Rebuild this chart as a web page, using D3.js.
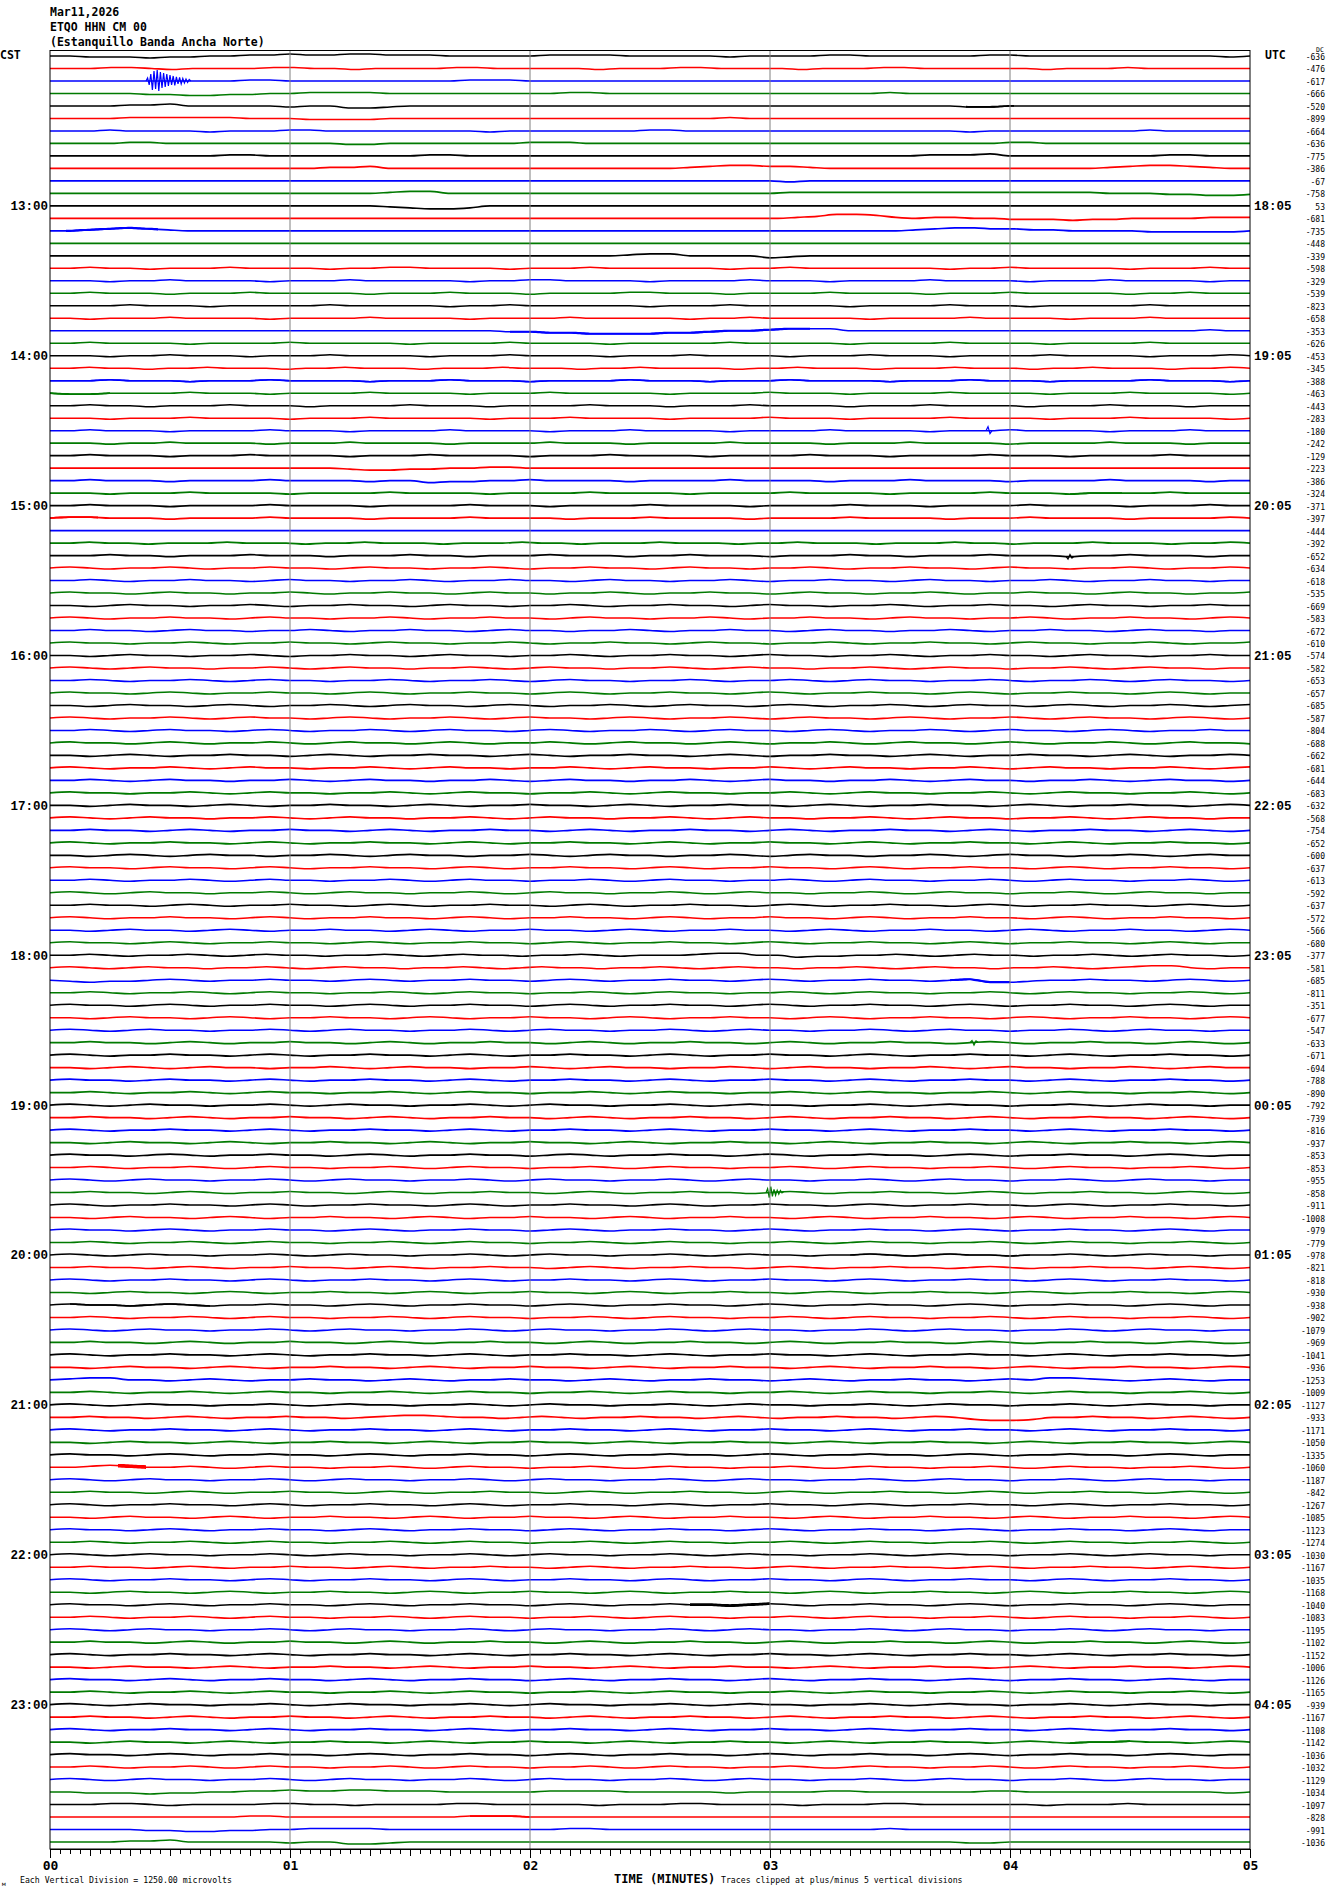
<!DOCTYPE html>
<html><head><meta charset="utf-8">
<script src="https://cdn.jsdelivr.net/npm/d3@7"></script>
<style>body{margin:0;background:#fff}svg{display:block}</style>
</head><body><svg id="c" width="1330" height="1894"></svg>
<script>
// ---------------- DATA ----------------
const titleLines = ["Mar11,2026", "ETQO HHN CM 00", "(Estanquillo Banda Ancha Norte)"];
const cstLabels = ["13:00","14:00","15:00","16:00","17:00","18:00","19:00","20:00","21:00","22:00","23:00"];
const utcLabels = ["18:05","19:05","20:05","21:05","22:05","23:05","00:05","01:05","02:05","03:05","04:05"];
const minuteLabels = ["00","01","02","03","04","05"];
const rowOffsets = [-636,-476,-617,-666,-520,-899,-664,-636,-775,-386,-67,-758,
53,-681,-735,-448,-339,-598,-329,-539,-823,-658,-353,-626,
-453,-345,-388,-463,-443,-283,-180,-242,-129,-223,-386,-324,
-371,-397,-444,-392,-652,-634,-618,-535,-669,-583,-672,-610,
-574,-582,-653,-657,-685,-587,-804,-688,-662,-681,-644,-683,
-632,-568,-754,-652,-600,-637,-613,-592,-637,-572,-566,-680,
-377,-581,-685,-811,-351,-677,-547,-633,-671,-694,-788,-890,
-792,-739,-816,-937,-853,-853,-955,-858,-911,-1008,-979,-779,
-978,-821,-818,-930,-938,-902,-1079,-969,-1041,-936,-1253,-1009,
-1127,-933,-1171,-1050,-1335,-1060,-1187,-842,-1267,-1085,-1123,-1274,
-1030,-1167,-1035,-1168,-1040,-1083,-1195,-1102,-1152,-1006,-1126,-1165,
-939,-1167,-1108,-1142,-1036,-1032,-1129,-1034,-1097,-828,-991,-1036];
// trace samples, evenly spaced over the 5-minute row; 'm' = 0, each letter step = 100 microvolts (up positive)
const traces = [
"mmlllkllmmnnonnoonnnmmmmmnnnnmmmmmlmmmmnnmmmmmmnnmmmmmmmmmmlm",
"mmmnnmlmmmmnnmmlmmmmnnmmmmmlmmmnnmmmmlmmmnnmmmmmmlmmmnmmmmmm",
"mmmmmmmmmmnnmmmmmmmmmnnnmmmmmmmmmmmmmmmmmmmmmmmmmmmmmmmmmmmmm",
"mmmmmllkkllmmnnnnmmmmmmmmmnnmmmmmmmmmmmmmmnmmmmmmmmmmmmmmmmmm",
"mmmmnnommmmmlmmkklmmmmmmmmmmmmmmmmmmmmmmmmmmmmllmmmmmmmmmmmmm",
"mmmmnnnnnnmmmllllmmmmmmmmmmmmmmmmmnmmmmmmmmmmmmmmmmmmmmmmmmmm",
"mmmnmmmmlmmmnnmmmmmmmmlmmmmmmmnnmmmmmmmmmmmmmmlmmmmmmmmnmmmmm",
"mmmmnnmmmmmmmmmllmmmmmmmnnnmmmmmmmmmmmmmmmmmmmmmnnmmmmmmmmmmm",
"mmmmmmmmmnnmmmmmmmmnnmmmmmmmmmmmmmmmmmmmmmmmnnnommmmmmmmnnmmm",
"mmmmmmmmmmmmmmnnommmmmmmmmmmmmmmnoppoonmmmmmmmmmmmmmmnopponmm",
"mmmmmmmmmmmmmmmmmmmmmmmmmmmmmmmmmmmmmlmmmmmmmmmmmmmmmmmmmmmmm",
"mmmmmmmmmmmmmmmmmnoommmmmmmmmmmmmmmmmnnnnnnnnnnnnnnnnmmmllkkl",
"mmmmmmmmmmmmmmmmmlkjjkmmmmmmmmmmmmmmmmmmmmmmmmmmmmmmmmmmmmmmm",
"mmmmmmmmmmmmmmmmmmmmmmmmmmmmmmmmmmmmmmnoqqpnmnnmmlllkllmmmmnnn",
"mmnoponmmmmmmmmmmmmmmmmmmmmmmmmmmmmmmmmmmmmmnoppoonnmmmmlllllm",
"mmmmmmmmmmmmmmmmmmmmmmmmmmmmmmmmmmmmmmmmmmmmmmmmmmmmmmmmmmmmm",
"mmmmmmmmmmmmmmmmmmmmmmmmmmmmmnoommmmklmmmmmmmmmmmmmmmmmmmmmmm",
"mmnmmlmmmnmmmmlmmnnmmmmlmmmnmmmmmmlmmnmmmmmmmlmmnmmmmmlmmmnmm",
"mmmlmmnmmmmlmmmnmmmmmlmmnnmmmmlmmmmnmmmlmmmmnmmmmlmmmnmmmmlmm",
"mmnmmmlmmmnmmmmmlmmmnmmmlmmmmnnmmmlmmmmnmmmmlmmmnmmmmmlmmnmmm",
"mmmmnmmmlmmmmmnmmmmmlmmnmmmmmmlmmmnmmmmmlmmmmnmmmlmmmmmnmmmmm",
"mmlmmmnmmmmlmmmmnmmmmlmmmmnmmmmmlmmnmmmmmlmmmmnmmmmlmmmnmmmmm",
"mmmmmmmmmmmmmmmmmmmmmmmllkkjjjjkklmmnooommmmmmmmmmmmmmmmmmnmm",
"mmnmmmmlmmmmnmmmmmlmmmmnmmmmlmmmmmnmmmmmlmmmmnmmmmlmmmmnmmmmm",
"mmmlmmnmmmlmmmnmmmmlmmmnmmmmlmmmnmmmmlmmmnmmmlmmmmnmmmmlmmmnm",
"mmnmmlmmnmmmlmmnmmmlmmmnmmmlmmnmmmmlmmnmmmlmmmnmmmlmmnmmmlmmnm",
"mmmnmmmlmmmnmmmmlmmmnmmmlmmmmnmmmlmmmnmmmmlmmmnmmmlmmmmnmmmlm",
"mllmmmmnmmmlmmmmnmmmmlmmmnmmmmmlmmmmnmmmlmmmmnmmmmlmmmnmmmmlm",
"mmnmmlmmmnmmmlmmmmnmmmlmmmmnmmmlmmmnmmmmlmmmnmmmmlmmmnmmmlmmm",
"mmmlmmmnmmmmlmmmnmmmmmlmmmnmmmmlmmmmnmmmlmmmmnmmmmlmmmnmmmmlm",
"mmnmmmlmmmmnmmmlmmmmnmmmmlmmmnmmmmlmmmmnmmmmlmmmnmmmmlmmmnmmm",
"mmmlmmnmmmmlmmmnmmmmlmmmmnmmmlmmmmnmmmmlmmmnmmmmlmmmmnmmmlmmm",
"mmnmmmlmmmnmmmmlmmmnmmmmlmmmnmmmmlmmmmnmmmlmmmmnmmmlmmmmnmmmm",
"mmmmmmmmmmmmmmmlkkllmmnnmmmmmmmmmmmmmmmmmmmmmmmmmmmmmmmmmmmmm",
"mmnmmmlmmmmnmmmmlmmkllmmnmmmmlmmmmnmmmmlmmmnmmmmlmmmmnmmmmlmm",
"mmmlmmmnmmmmlmmmmnmmmmlmmmmnmmmmlmmmmnmmmmlmmmmnmmmlmmmmnmmmm",
"mmnmmmlmmmmnmmmmlmmmmnmmmlmmmmnmmmmlmmmmnmmmlmmmmnmmmmlmmmnmm",
"mnnmmmlmmmmnmmmmlmmmmnmmmmlmmmnmmmmlmmmmnmmmmlmmmnmmmmlmmmmnm",
"mmmmmmmmmmmmmmmmmmmmmmmmmmmmmmmmmmmmmmmmmmmmmmmmmmmmmmmmmmmmm",
"mmnmmlmmmnmmmlmmnmmmlmmmnmmlmmmnmmmlmmnmmmlmmmnmmlmmmnmmmlmmnm",
"mmmnmmlmmmnmmmlmmmnmmlmmmnmmmlmmnmmmlmmmnmmlmmmnmmmlmmnmmmlmm",
"mnmlmmnmlmmnmmlmnmmlmmnmlmmnmmlmnmmlmmnmlmmnmmlmnmmlmmnmlmmnm",
"mmnmlmmnmmlmnmmlmmnmlmmnmmlmnmmlmmnmlmmnmmlmnmmlmmnmlmmnmmlmm",
"mnmmlmnmmlmmnmlmmnmmlmnmmlmmnmlmmnmmlmnmmlmmnmlmmnmmlmnmmlmmn",
"mmlmnmmlmmnmlmmnmmlmnmmlmmnmlmmnmmlmnmmlmmnmlmmnmmlmnmmlmmnmm",
"mnmlmmnmmlmnmmlmmnmlmmnmmlmnmmlmmnmlmmnmmlmnmmlmmnmlmmnmmlmnm",
"mmnmmlmnmmlmmnmlmmnmmlmnmmlmmnmlmmnmmlmnmmlmmnmlmmnmmlmnmmlmm",
"mnmmlmmnmlmmnmmlmnmmlmmnmlmmnmmlmnmmlmmnmlmmnmmlmnmmlmmnmlmmn",
"mmlmnmmlmmnmlmmnmmlmnmmlmmnmlmmnmmlmnmmlmmnmlmmnmmlmnmmlmmnmm",
"mnmlmnmmlmmnmlmnmmlmmnmlmnmmlmmnmlmnmmlmmnmlmnmmlmmnmlmnmmlmm",
"mmnmlmmnmlmnmmlmmnmlmmnmlmnmmlmmnmlmmnmlmnmmlmmnmlmmnmlmnmmlm",
"mnmmlmnmlmmnmmlmnmlmmnmmlmnmlmmnmmlmnmlmmnmmlmnmlmmnmmlmnmlmm",
"mmlmnmmlmnmlmmnmlmnmmlmnmlmmnmlmnmmlmnmlmmnmlmnmmlmnmlmmnmlmn",
"mnmlmmnmlmnmmlmnmlmmnmlmnmmlmnmlmmnmlmnmmlmnmlmmnmlmnmmlmnmlm",
"mmnmlmnmmlmnmlmmnmlmnmmlmnmlmmnmlmnmmlmnmlmmnmlmnmmlmnmlmmnmm",
"mnmmlmnmlmmnmlmnmmlmnmlmmnmlmnmmlmnmlmmnmlmnmmlmnmlmmnmlmnmml",
"mmlmnmlmmnmmlmnmlmmnmmlmnmlmmnmmlmnmlmmnmmlmnmlmmnmmlmnmlmmnm",
"mnmlmmnmlmnmmlmmnmlmnmmlmmnmlmnmmlmmnmlmnmmlmmnmlmnmmlmmnmlmn",
"mmnmlmnmmlmmnmlmnmmlmmnmlmnmmlmmnmlmnmmlmmnmlmnmmlmmnmlmnmmlm",
"mnmmlmmnmlmnmmlmmnmlmnmmlmmnmlmnmmlmmnmlmnmmlmmnmlmnmmlmmnmlm",
"mmlmnmmlmnmlmmnmmlmnmlmmnmmlmnmlmmnmmlmnmlmmnmmlmnmlmmnmmlmnm",
"mnmlmnmmlmmnmlmnmmlmmnmlmnmmlmmnmlmnmmlmmnmlmnmmlmmnmlmnmmlmm",
"mmnmmlmnmlmmnmmlmnmlmmnmmlmnmlmmnmmlmnmlmmnmmlmnmlmmnmmlmnmlm",
"mnmlmmnmmlmnmlmmnmmlmnmlmmnmmlmnmlmmnmmlmnmlmmnmmlmnmlmmnmmlm",
"mmlmnmlmnmmlmmnmlmnmmlmmnmlmnmmlmmnmlmnmmlmmnmlmnmmlmmnmlmnmm",
"mnmmlmnmmlmnmlmmnmmlmnmlmmnmmlmnmlmmnmmlmnmlmmnmmlmnmlmmnmmlm",
"mmnmlmmnmlmnmmlmmnmlmnmmlmmnmlmnmmlmmnmlmnmmlmmnmlmnmmlmmnmlm",
"mnmlmnmmlmmnmlmnmmlmmnmlmnmmlmmnmlmnmmlmmnmlmnmmlmmnmlmnmmlmm",
"mmnmmlmnmlmmnmmlmnmlmmnmmlmnmlmmnmmlmnmlmmnmmlmnmlmmnmmlmnmlm",
"mnmlmmnmmlmnmlmmnmmlmnmlmmnmmlmnmlmmnmmlmnmlmmnmmlmnmlmmnmmlm",
"mmlmnmmlmnmlmmnmmlmnmlmmnmmlmnmlmmnmmlmnmlmmnmmlmnmlmmnmmlmnm",
"mnmmlmnmlmmnmmlmnmlmmnmmlmnmlmmnmmlmnmlmmnmmlmnmlmmnmmlmnmlmm",
"mmnmlmmnmlmnmmlmmnmlmnmmlmmnmlmmmnoommkllmmnmlmnmmlmmnmlmnmmlm",
"mnmlmnmmlmmnmlmnmmlmmnmlmnmmlmmnmlmnmmlmmnmlmnmmlmmnmlmnoomlmm",
"mlkllmnmlmmnmmlmnmlmmnmmlmnmlmmnmmlmnmlmmnmmlmnkklmmnmmlmnmlm",
"mmnmlmmnmlmnmmlmmnmlmnmmlmmnmlmnmmlmmnmlmnmmlmmnmlmnmmlmmnmlm",
"mnmmlmnmlmmnmmlmnmlmmnmmlmnmlmmnmmlmnmlmmnmmlmnmlmmnmmlmnmlmm",
"mmlmnmmlmnmlmmnmmlmnmlmmnmmlmnmlmmnmmlmnmlmmnmmlmnmlmmnmmlmnm",
"mnmlmnmmlmmnmlmnmmlmmnmlmnmmlmmnmlmnmmlmmnmlmnmmlmmnmlmnmmlmm",
"mmnmmlmnmlmmnmmlmnmlmmnmmlmnmlmmnmmlmnmlmmnmmlmnmlmmnmmlmnmlm",
"mnmlmmnmmlmnmlmmnmmlmnmlmmnmmlmnmlmmnmmlmnmlmmnmmlmnmlmmnmmlm",
"mmlmnmlmnmmlmmnmlmnmmlmmnmlmnmmlmmnmlmnmmlmmnmlmnmmlmmnmlmnmm",
"mnmmlmnmmlmnmlmmnmmlmnmlmmnmmlmnmlmmnmmlmnmlmmnmmlmnmlmmnmmlm",
"mmnmlmmnmlmnmmlmmnmlmnmmlmmnmlmnmmlmmnmlmnmmlmmnmlmnmmlmmnmlm",
"mnmlmnmmlmmnmlmnmmlmmnmlmnmmlmmnmlmnmmlmmnmlmnmmlmmnmlmnmmlmm",
"mmnmmlmnmlmmnmmlmnmlmmnmmlmnmlmmnmmlmnmlmmnmmlmnmlmmnmmlmnmlm",
"mnmlmmnmmlmnmlmmnmmlmnmlmmnmmlmnmlmmnmmlmnmlmmnmmlmnmlmmnmmlm",
"mmlmnmmlmnmlmmnmmlmnmlmmnmmlmnmlmmnmmlmnmlmmnmmlmnmlmmnmmlmnm",
"mnmmlmnmlmmnmmlmnmlmmnmmlmnmlmmnmmlmnmlmmnmmlmnmlmmnmmlmnmlmm",
"mmnmlmmnmlmnmmlmmnmlmnmmlmmnmlmnmmlmmnmlmnmmlmmnmlmnmmlmmnmlm",
"mnmlmnmmlmmnmlmnmmlmmnmlmnmmlmmnmlmnmmlmmnmlmnmmlmmnmlmnmmlmm",
"mmnmmlmnmlmmnmmlmnmlmmnmmlmnmlmmnmmlmnmlmmnmmlmnmlmmnmmlmnmlm",
"mnmlmmnmmlmnmlmmnmmlmnmlmmnmmlmnmlmmnmmlmnmlmmnmmlmnmlmmnmmlm",
"mmlmnmmlmnmlmmnmmlmnmlmmnmmlmnmlmmnmmlmnmlmmnmmlmnmlmmnmmlmnm",
"mnmmlmnmlmmnmmlmnmlmmnmmlmnmlmmnmmlmnmlmmnmmlmnmlmmnmmlmnmlmm",
"mmnmlmmnmlmnmmlmmnmlmnmmlmmnmlmnmmlmmnmlmnmmlmmnmlmnmmlmmnmlm",
"mnmlmnmmlmmnmlmnmmlmmnmlmnmmlmmnmlmnmmlmmnmlmnmmlmmnmlmnmmlmm",
"mmnmmlmnmlmmnmmlmnmlmmnmmlmnmlmmnmmlmnmlmmnmmlmnmlmmnmmlmnmlm",
"mnmlmmnmmlmnmlmmnmmlmnmlmmnmmlmnmlmmnmmlmnmlmmnmmlmnmlmmnmmlm",
"mmlmnmmlmnmlmmnmmlmnmlmmnmmlmnmlmmnmmlmnmlmmnmmlmnmlmmnmmlmnm",
"mnmmlmnmlmmnmmlmnmlmmnmmlmnmlmmnmmlmnmlmmnmmlmnmlmmnmmlmnmlmm",
"mmnmlmmnmlmnmmlmmnmlmnmmlmmnmlmnmmlmmnmlmnmmlmmnmlmnmmlmmnmlm",
"mnmlmnmmlmmnmlmnmmlmmnmlmnmmlmmnmlmnmmlmmnmlmnmmlmmnmlmnmmlmm",
"mmnmmlmnmlmmnmmlmnmlmmnmmlmnmlmmnmmlmnmlmmnmmlmnmlmmnmmlmnmlm",
"mnmlmmnmmlmnmlmmnmmlmnmlmmnmmlmnmlmmnmmlmnmlmmnmmlmnmlmmnmmlm",
"mmlmnmmlmnmlmmnmmlmnmlmmnmmlmnmlmmnmmlmnmlmmnmmlmnmlmmnmmlmnm",
"mnoommlmnmlmmnmmlmnmlmmnmmlmnmlmmnmmlmnmlmmnmmlmnmoonmlmnmlmm",
"mmnmlmmnmlmnmmlmmnmlmnmmlmmnmlmnmmlmmnmlmnmmlmmnmlmnmmlmmnmlm",
"mnmlmnmmlmmnmlmnmmlmmnmlmnmmlmmnmlmnmmlmmnmlmnmmlmmnmlmnmmlmm",
"mmnmmlmnmlmmnmmlmnoonmmlmnmlmmnmmlmnmlmmnmmlmnmkjjkmmnmmlmnmlm",
"mnmlmmnmmlmnmlmmnmmlmnmlmmnmmlmnmlmmnmmlmnmlmmnmmlmnmlmmnmmlm",
"mmlmnmmlmnmlmmnmmlmnmlmmnmmlmnmlmmnmmlmnmlmmnmmlmnmlmmnmmlmnm",
"mnmmlmnmlmmnmmlmnmlmmnmmlmnmlmmnmmlmnmlmmnmmlmnmlmmnmmlmnmlmm",
"mmnonmmnmlmnmmlmmnmlmnmmlmmnmlmnmmlmmnmlmnmmlmmnmlmnmmlmmnmlm",
"mnmlmnmmlmmnmlmnmmlmmnmlmnmmlmmnmlmnmmlmmnmlmnmmlmmnmlmnmmlmm",
"mmnmmlmnmlmmnmmlmnmlmmnmmlmnmlmmnmmlmnmlmmnmmlmnmlmmnmmlmnmlm",
"mnmlmmnmmlmnmlmmnmmlmnmlmmnmmlmnmlmmnmmlmnmlmmnmmlmnmlmmnmmlm",
"mmlmnmmlmnmlmmnmmlmnmlmmnmmlmnmlmmnmmlmnmlmmnmmlmnmlmmnmmlmnm",
"mnmmlmnmlmmnmmlmnmlmmnmmlmnmlmmnmmlmnmlmmnmmlmnmlmmnmmlmnmlmm",
"mmnmlmmnmlmnmmlmmnmlmnmmlmmnmlmnmmlmmnmlmnmmlmmnmlmnmmlmmnmlm",
"mnmlmnmmlmmnmlmnmmlmmnmlmnmmlmmnmlmnmmlmmnmlmnmmlmmnmlmnmmlmm",
"mmnmmlmnmlmmnmmlmnmlmmnmmlmnmlmmnmmlmnmlmmnmmlmnmlmmnmmlmnmlm",
"mnmlmmnmmlmnmlmmnmmlmnmlmmnmmlmnmlmmnmmlmnmlmmnmmlmnmlmmnmmlm",
"mmlmnmmlmnmlmmnmmlmnmlmmnmmlmnmlmmnmmlmnmlmmnmmlmnmlmmnmmlmnm",
"mnmmlmnmlmmnmmlmnmlmmnmmlmnmlmmnmmlmnmlmmnmmlmnmlmmnmmlmnmlmm",
"mmnmlmmnmlmnmmlmmnmlmnmmlmmnmlmnmmlmmnmlmnmmlmmnmlmnmmlmmnmlm",
"mnmlmnmmlmmnmlmnmmlmmnmlmnmmlmmnmlmnmmlmmnmlmnmmlmmnmlmnmmlmm",
"mmnmmlmnmlmmnmmlmnmlmmnmmlmnmlmmnmmlmnmlmmnmmlmnmlmmnmmlmnmlm",
"mnmlmmnmmlmnmlmmnmmlmnmlmmnmmlmnmlmmnmmlmnmlmmnmmlmnmlmmnmmlm",
"mmlmnmmlmnmlmmnmmlmnmlmmnmmlmnmlmmnmmlmnmlmmnmmlmnmlmmnmmlmnm",
"mnmmlmnmlmmnmmlmnmlmmnmmlmnmlmmnmmlmnmlmmnmmlmnmlmmnmmlmnmlmm",
"mmnmlmmnmlmnmmlmmnmlmnmmlmmnmlmnmmlmmnmlmnmmlmmnmlmnmmlmmnmlm",
"mnmlmnmmlmmnmlmnmmlmmnmlmnmmlmmnmlmnmmlmmnmlmnmmlmmnmlmnmmlmm",
"mmnmmlmnmlmmnmmlmnmlmmnmmlmnmlmmnmmlmnmlmmnmmlmnmlmmnmmlmnmlm",
"mnmlmmnmmlmnmlmmnmmlmnmlmmnmmlmnmlmmnmmlmnmlmmnmmlmnmlmmnmmlm",
"mmlmnmmlmnmlmmnmmlmnmlmmnmmlmnmlmmnmmlmnmlmmnmmlmnmlmmnmmlmnm",
"mnmmlmnmlmmnmmlmnmlmmnmmlmnmlmmnmmlmnmlmmnmmlmnmlmmnmmlmnmlmm",
"mmnmlmmnmlmnmmlmmnmlmnmmlmmnmlmnmmlmmnmlmnmmlmmnmlmnmmlmmnmlm",
"mnmlmnmmlmmnmlmnmmlmmnmlmnmmlmmnmlmnmmlmmnmlmnmmlmmnmlmnmmlmm"
];
// short high-rate bursts: row, start second, step seconds, values (microvolts)
const bursts = [
  {row: 2, t0: 24, dt: 0.4, v: [0,300,-400,700,-900,1000,-800,1100,-1000,900,-700,800,-600,700,-500,600,-400,500,-450,400,-300,350,-300,250,-200,200,-150,150,0]},
  {row: 30, t0: 234, dt: 0.5, v: [0,400,-300,0]},
  {row: 40, t0: 254, dt: 0.5, v: [0,-250,200,-150,0]},
  {row: 79, t0: 230, dt: 0.5, v: [0,200,-250,150,0]},
  {row: 91, t0: 179, dt: 0.4, v: [0,400,-500,600,-400,300,-300,200,-200,150,-100,0]}
];
// noisy stretches: row, start second, end second, half-width of noise envelope (microvolts)
const noiseBands = [
  [4,229,241,90],[14,4,27,110],[22,115,190,110],[26,0,300,80],[27,0,15,90],
  [35,255,268,80],[37,0,12,90],[74,225,240,110],[96,200,245,60],[100,5,40,80],
  [113,17,24,180],[124,160,180,140],[135,255,270,90],[141,105,120,90]
];

// ---------------- DRAW ----------------
const svg = d3.select("#c");
const colors = ["#000000", "#ff0000", "#0000ff", "#007a00"];
const pL = 50, pR = 1250, pT = 50.5, pB = 1849;
const nRows = rowOffsets.length;
const x = d3.scaleLinear().domain([0, 300]).range([pL, pR]);
const yRow = d3.scaleLinear().domain([-0.44, nRows - 0.44]).range([pT, pB]);
const rowH = yRow(1) - yRow(0);
const amp = d3.scaleLinear().domain([0, 1250]).range([0, -rowH]);

function samples(i) {
  const s = traces[i % traces.length], n = s.length;
  return Array.from(s, (c, k) => ({t: k * 300 / (n - 1), v: (c.charCodeAt(0) - 109) * 100}));
}
function baseAt(sm, t) {
  const step = 300 / (sm.length - 1);
  const k = Math.min(sm.length - 2, Math.max(0, Math.floor(t / step)));
  const f = (t - sm[k].t) / step;
  return sm[k].v + (sm[k + 1].v - sm[k].v) * f;
}

const gTr = svg.append("g");
const line = d3.line().x(d => x(d.t)).y(d => d.y).curve(d3.curveMonotoneX);
const sampled = [];
for (let i = 0; i < nRows; i++) {
  const sm = samples(i);
  sampled.push(sm);
  gTr.append("path")
    .attr("d", line(sm.map(d => ({t: d.t, y: yRow(i) + amp(d.v)}))))
    .attr("fill", "none").attr("stroke", colors[i % 4]).attr("stroke-width", 1.6);
}
const area = d3.area().x(d => x(d.t)).y0(d => d.y0).y1(d => d.y1).curve(d3.curveMonotoneX);
noiseBands.forEach(([r, t0, t1, hw]) => {
  const sm = sampled[r], pts = [];
  for (let t = t0; t <= t1 + 1e-6; t += 1) {
    const b = baseAt(sm, t);
    pts.push({t, y0: yRow(r) + amp(b + hw), y1: yRow(r) + amp(b - hw)});
  }
  gTr.append("path").attr("d", area(pts)).attr("fill", colors[r % 4]);
});
const bl = d3.line().x(d => x(d.t)).y(d => d.y);
bursts.forEach(b => {
  const sm = sampled[b.row];
  const pts = b.v.map((v, k) => { const t = b.t0 + k * b.dt; return {t, y: yRow(b.row) + amp(baseAt(sm, t) + v)}; });
  gTr.append("path").attr("d", bl(pts)).attr("fill", "none").attr("stroke", colors[b.row % 4]).attr("stroke-width", 1.2);
});

svg.append("g").selectAll("line").data(d3.range(60, 300, 60)).join("line")
  .attr("x1", d => x(d)).attr("x2", d => x(d)).attr("y1", pT).attr("y2", pB)
  .attr("stroke", "#808080").attr("stroke-width", 1);
svg.append("rect").attr("x", pL).attr("y", pT).attr("width", pR - pL).attr("height", pB - pT)
  .attr("fill", "none").attr("stroke", "#000").attr("stroke-width", 1);

const minor = svg.append("g").attr("transform", `translate(0,${pB})`)
  .call(d3.axisBottom(x).tickValues(d3.range(0, 301, 2.5)).tickSize(5).tickFormat(""));
const mid = svg.append("g").attr("transform", `translate(0,${pB})`)
  .call(d3.axisBottom(x).tickValues(d3.range(0, 301, 10)).tickSize(7).tickFormat(""));
const major = svg.append("g").attr("transform", `translate(0,${pB})`)
  .call(d3.axisBottom(x).tickValues(d3.range(0, 301, 60)).tickSize(9).tickPadding(3)
    .tickFormat((d, i) => minuteLabels[i]));
[minor, mid, major].forEach(g => { g.select(".domain").attr("stroke", "#000"); g.selectAll("line").attr("stroke", "#000"); });
major.selectAll("text").attr("font-family", "DejaVu Sans Mono").attr("font-weight", "bold")
  .attr("font-size", 13).attr("fill", "#000");

svg.append("g").selectAll("text").data(titleLines).join("text")
  .attr("x", 50).attr("y", (d, i) => 16 + i * 15)
  .attr("font-family", "DejaVu Sans Mono").attr("font-weight", "bold").attr("font-size", 11.5)
  .text(d => d);

const lab = (x0, y0, txt, size, anchor, bold) => svg.append("text").attr("x", x0).attr("y", y0)
  .attr("font-family", "DejaVu Sans Mono").attr("font-size", size)
  .attr("font-weight", bold ? "bold" : "normal").attr("text-anchor", anchor || "start").text(txt);
lab(0, 59, "CST", 11.5, "start", true);
lab(1265, 59, "UTC", 11.5, "start", true);

svg.append("g").selectAll("text").data(cstLabels).join("text")
  .attr("x", 48).attr("y", (d, i) => yRow((i + 1) * 12) + 4.5).attr("text-anchor", "end")
  .attr("font-family", "Liberation Mono").attr("font-weight", "bold").attr("font-size", 12.5).text(d => d);
svg.append("g").selectAll("text").data(utcLabels).join("text")
  .attr("x", 1254).attr("y", (d, i) => yRow((i + 1) * 12) + 4.5).attr("text-anchor", "start")
  .attr("font-family", "Liberation Mono").attr("font-weight", "bold").attr("font-size", 12.5).text(d => d);

svg.append("g").selectAll("text").data(rowOffsets).join("text")
  .attr("x", 1325).attr("y", (d, i) => yRow(i) + 4).attr("text-anchor", "end")
  .attr("font-family", "DejaVu Sans Mono").attr("font-size", 8).text(d => d);
lab(1316, 52, "DC", 6.5, "start", false);

lab(614, 1883, "TIME (MINUTES)", 12, "start", true);
lab(20, 1883, "Each Vertical Division = 1250.00 microvolts", 8.2, "start", false);
lab(721, 1883, "Traces clipped at plus/minus 5 vertical divisions", 8.2, "start", false);
lab(2, 1886, "м", 6, "start", false);
</script></body></html>
